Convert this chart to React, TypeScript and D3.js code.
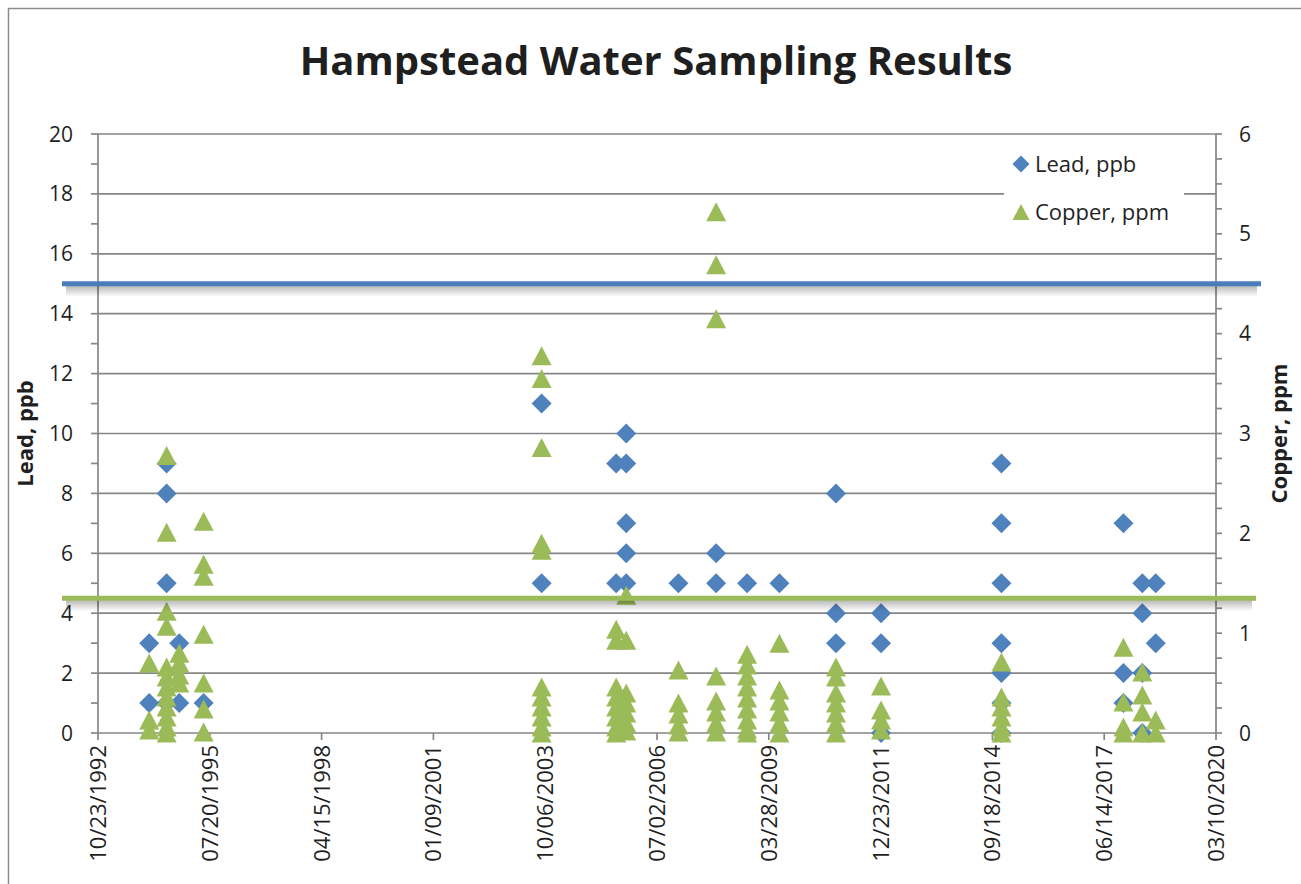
import React from 'react';
import * as d3 from 'd3';

const dateTicks = [
  '10/23/1992', '07/20/1995', '04/15/1998', '01/09/2001', '10/06/2003', '07/02/2006',
  '03/28/2009', '12/23/2011', '09/18/2014', '06/14/2017', '03/10/2020',
];
const leadTicks = [0, 2, 4, 6, 8, 10, 12, 14, 16, 18, 20];
const copperTicks = [0, 1, 2, 3, 4, 5, 6];

// sample date, lead (ppb)
const leadSamples: [string, number][] = [
  ['1994-01-24', 3], ['1994-01-24', 1],
  ['1994-06-29', 9], ['1994-06-29', 8], ['1994-06-29', 5], ['1994-06-29', 1],
  ['1994-10-20', 3], ['1994-10-20', 1],
  ['1995-05-26', 1],
  ['2003-09-04', 11], ['2003-09-04', 5],
  ['2005-07-02', 9], ['2005-07-02', 5],
  ['2005-09-30', 10], ['2005-09-30', 9], ['2005-09-30', 7], ['2005-09-30', 6], ['2005-09-30', 5],
  ['2007-01-10', 5],
  ['2007-12-13', 6], ['2007-12-13', 5],
  ['2008-09-15', 5],
  ['2009-07-01', 5],
  ['2010-11-19', 8], ['2010-11-19', 4], ['2010-11-19', 3],
  ['2011-12-27', 4], ['2011-12-27', 3], ['2011-12-27', 0],
  ['2014-12-08', 9], ['2014-12-08', 7], ['2014-12-08', 5], ['2014-12-08', 3], ['2014-12-08', 2],
  ['2014-12-08', 1], ['2014-12-08', 0],
  ['2017-12-03', 7], ['2017-12-03', 2], ['2017-12-03', 1],
  ['2018-05-21', 5], ['2018-05-21', 4], ['2018-05-21', 2], ['2018-05-21', 0],
  ['2018-09-18', 5], ['2018-09-18', 3],
];

// sample date, copper (ppm)
const copperSamples: [string, number][] = [
  ['1994-01-24', 0.7], ['1994-01-24', 0.13], ['1994-01-24', 0.03],
  ['1994-06-29', 2.78], ['1994-06-29', 2.01], ['1994-06-29', 1.22], ['1994-06-29', 1.07],
  ['1994-06-29', 0.66], ['1994-06-29', 0.56], ['1994-06-29', 0.46], ['1994-06-29', 0.36],
  ['1994-06-29', 0.26], ['1994-06-29', 0.16], ['1994-06-29', 0.06], ['1994-06-29', 0.0],
  ['1994-10-20', 0.8], ['1994-10-20', 0.7], ['1994-10-20', 0.58], ['1994-10-20', 0.5],
  ['1995-05-26', 2.12], ['1995-05-26', 1.69], ['1995-05-26', 1.57], ['1995-05-26', 0.99],
  ['1995-05-26', 0.5], ['1995-05-26', 0.24], ['1995-05-26', 0.01],
  ['2003-09-04', 3.78], ['2003-09-04', 3.55], ['2003-09-04', 2.86], ['2003-09-04', 1.9],
  ['2003-09-04', 1.83], ['2003-09-04', 0.46], ['2003-09-04', 0.36], ['2003-09-04', 0.26],
  ['2003-09-04', 0.16], ['2003-09-04', 0.06], ['2003-09-04', 0.0],
  ['2005-07-02', 1.04], ['2005-07-02', 0.93], ['2005-07-02', 0.46], ['2005-07-02', 0.36],
  ['2005-07-02', 0.26], ['2005-07-02', 0.16], ['2005-07-02', 0.06], ['2005-07-02', 0.0],
  ['2005-09-30', 1.38], ['2005-09-30', 0.93], ['2005-09-30', 0.4], ['2005-09-30', 0.3],
  ['2005-09-30', 0.2], ['2005-09-30', 0.1], ['2005-09-30', 0.02],
  ['2007-01-10', 0.63], ['2007-01-10', 0.3], ['2007-01-10', 0.19], ['2007-01-10', 0.08],
  ['2007-01-10', 0.01],
  ['2007-12-13', 5.22], ['2007-12-13', 4.69], ['2007-12-13', 4.15], ['2007-12-13', 0.57],
  ['2007-12-13', 0.32], ['2007-12-13', 0.21], ['2007-12-13', 0.1], ['2007-12-13', 0.01],
  ['2008-09-15', 0.79], ['2008-09-15', 0.68], ['2008-09-15', 0.57], ['2008-09-15', 0.46],
  ['2008-09-15', 0.35], ['2008-09-15', 0.24], ['2008-09-15', 0.13], ['2008-09-15', 0.04],
  ['2008-09-15', 0.0],
  ['2009-07-01', 0.9], ['2009-07-01', 0.43], ['2009-07-01', 0.32], ['2009-07-01', 0.21],
  ['2009-07-01', 0.1], ['2009-07-01', 0.0],
  ['2010-11-19', 0.66], ['2010-11-19', 0.56], ['2010-11-19', 0.4], ['2010-11-19', 0.3],
  ['2010-11-19', 0.2], ['2010-11-19', 0.1], ['2010-11-19', 0.0],
  ['2011-12-27', 0.47], ['2011-12-27', 0.23], ['2011-12-27', 0.13], ['2011-12-27', 0.03],
  ['2014-12-08', 0.71], ['2014-12-08', 0.36], ['2014-12-08', 0.26], ['2014-12-08', 0.16],
  ['2014-12-08', 0.06], ['2014-12-08', 0.0],
  ['2017-12-03', 0.86], ['2017-12-03', 0.31], ['2017-12-03', 0.06], ['2017-12-03', 0.0],
  ['2018-05-21', 0.61], ['2018-05-21', 0.38], ['2018-05-21', 0.21], ['2018-05-21', 0.0],
  ['2018-09-18', 0.13], ['2018-09-18', 0.0],
];

const leadActionLevel = 15;   // ppb
const copperActionLevel = 1.35; // ppm (as drawn)

const W = 1301;
const H = 884;
const plot = { left: 98, right: 1216, top: 134, bottom: 733 };

const font = "'Open Sans', sans-serif";
const textColor = '#1f1f1f';
const gridColor = '#868686';
const blue = '#4f81bd';
const green = '#9bbb59';

const parseTick = d3.utcParse('%m/%d/%Y');
const parseSample = d3.utcParse('%Y-%m-%d');

const diamond = 'M0,-10L10,0L0,10L-10,0Z';
const triangle = 'M0,-9.5L10,9.5L-10,9.5Z';

export default function App() {
  const tickDates = dateTicks.map(d => parseTick(d) as Date);
  const x = d3.scaleUtc()
    .domain([tickDates[0], tickDates[tickDates.length - 1]])
    .range([plot.left, plot.right]);
  const yLead = d3.scaleLinear().domain([0, 20]).range([plot.bottom, plot.top]);
  const yCopper = d3.scaleLinear().domain([0, 6]).range([plot.bottom, plot.top]);

  const leadMinor = d3.range(0, 21, 1);
  const copperMinor = d3.range(0, 6.001, 0.25);

  const midY = (plot.top + plot.bottom) / 2;

  const actionLines = [
    { y: yLead(leadActionLevel), color: '#4a7ebb', x1: plot.left - 36, x2: plot.right + 45 },
    { y: yCopper(copperActionLevel), color: green, x1: plot.left - 36, x2: plot.right + 40 },
  ];

  return (
    <svg width={W} height={H} style={{ position: 'absolute', left: 0, top: 0, background: '#fff' }}>
      <defs>
        <linearGradient id="shadow" x1="0" y1="0" x2="0" y2="1">
          <stop offset="0" stopColor="#000" stopOpacity={0.28} />
          <stop offset="1" stopColor="#000" stopOpacity={0} />
        </linearGradient>
      </defs>
      <rect x={8.5} y={8.5} width={W + 20} height={H + 20} fill="#fff" stroke="#8c8c8c" strokeWidth={1.5} />

      <text x={656} y={75} textAnchor="middle" fontFamily={font} fontWeight="bold" fontSize={40} fill={textColor}>
        Hampstead Water Sampling Results
      </text>

      {/* gridlines */}
      <g stroke={gridColor} strokeWidth={1.7}>
        {leadTicks.filter(t => t > 0).map(t => (
          <line key={t} x1={plot.left} x2={plot.right} y1={yLead(t)} y2={yLead(t)} />
        ))}
      </g>

      {/* axes */}
      <g stroke={gridColor} strokeWidth={1.7}>
        <line x1={plot.left} x2={plot.left} y1={plot.top} y2={plot.bottom} />
        <line x1={plot.right} x2={plot.right} y1={plot.top} y2={plot.bottom} />
        <line x1={plot.left} x2={plot.right} y1={plot.bottom} y2={plot.bottom} />
        {leadMinor.map(t => (
          <line key={'l' + t} x1={plot.left - 7} x2={plot.left} y1={yLead(t)} y2={yLead(t)} />
        ))}
        {copperMinor.map(t => (
          <line key={'c' + t} x1={plot.right} x2={plot.right + 6} y1={yCopper(t)} y2={yCopper(t)} />
        ))}
        {tickDates.map((d, i) => (
          <line key={'d' + i} x1={x(d)} x2={x(d)} y1={plot.bottom} y2={plot.bottom + 7} />
        ))}
      </g>

      <g fontFamily={font} fontSize={21} fill={textColor}>
        {leadTicks.map(t => (
          <text key={t} x={73} y={yLead(t)} dy="0.36em" textAnchor="end">{t}</text>
        ))}
        {copperTicks.map(t => (
          <text key={t} x={1239} y={yCopper(t)} dy="0.36em" textAnchor="start">{t}</text>
        ))}
        {dateTicks.map((label, i) => (
          <text key={label} transform={`translate(${x(tickDates[i])},${plot.bottom + 12}) rotate(-90)`}
            dy="0.36em" textAnchor="end" fontSize={22}>{label}</text>
        ))}
      </g>

      <text transform={`translate(33,${midY}) rotate(-90)`} textAnchor="middle"
        fontFamily={font} fontWeight="bold" fontSize={22} fill={textColor}>Lead, ppb</text>
      <text transform={`translate(1287,${midY}) rotate(-90)`} textAnchor="middle"
        fontFamily={font} fontWeight="bold" fontSize={22} fill={textColor}>Copper, ppm</text>

      {/* legend */}
      <g>
        <rect x={1004} y={141} width={180} height={90} fill="#fff" />
        <path d={diamond} transform="translate(1021,164) scale(0.85)" fill={blue} />
        <text x={1035} y={172} fontFamily={font} fontSize={22} fill={textColor}>Lead, ppb</text>
        <path d={triangle} transform="translate(1021,212) scale(0.85)" fill={green} />
        <text x={1035} y={220} fontFamily={font} fontSize={22} fill={textColor}>Copper, ppm</text>
      </g>

      {/* data */}
      <g fill={blue}>
        {leadSamples.map(([d, v], i) => (
          <path key={i} d={diamond} transform={`translate(${x(parseSample(d) as Date)},${yLead(v)})`} />
        ))}
      </g>
      <g fill={green}>
        {copperSamples.map(([d, v], i) => (
          <path key={i} d={triangle} transform={`translate(${x(parseSample(d) as Date)},${yCopper(v)})`} />
        ))}
      </g>

      {/* action level lines */}
      {actionLines.map((l, i) => (
        <g key={i}>
          <rect x={l.x1 + 4} y={l.y + 2} width={l.x2 - l.x1 - 8} height={11} fill="url(#shadow)" />
          <line x1={l.x1} x2={l.x2} y1={l.y} y2={l.y} stroke={l.color} strokeWidth={5} />
        </g>
      ))}
    </svg>
  );
}
